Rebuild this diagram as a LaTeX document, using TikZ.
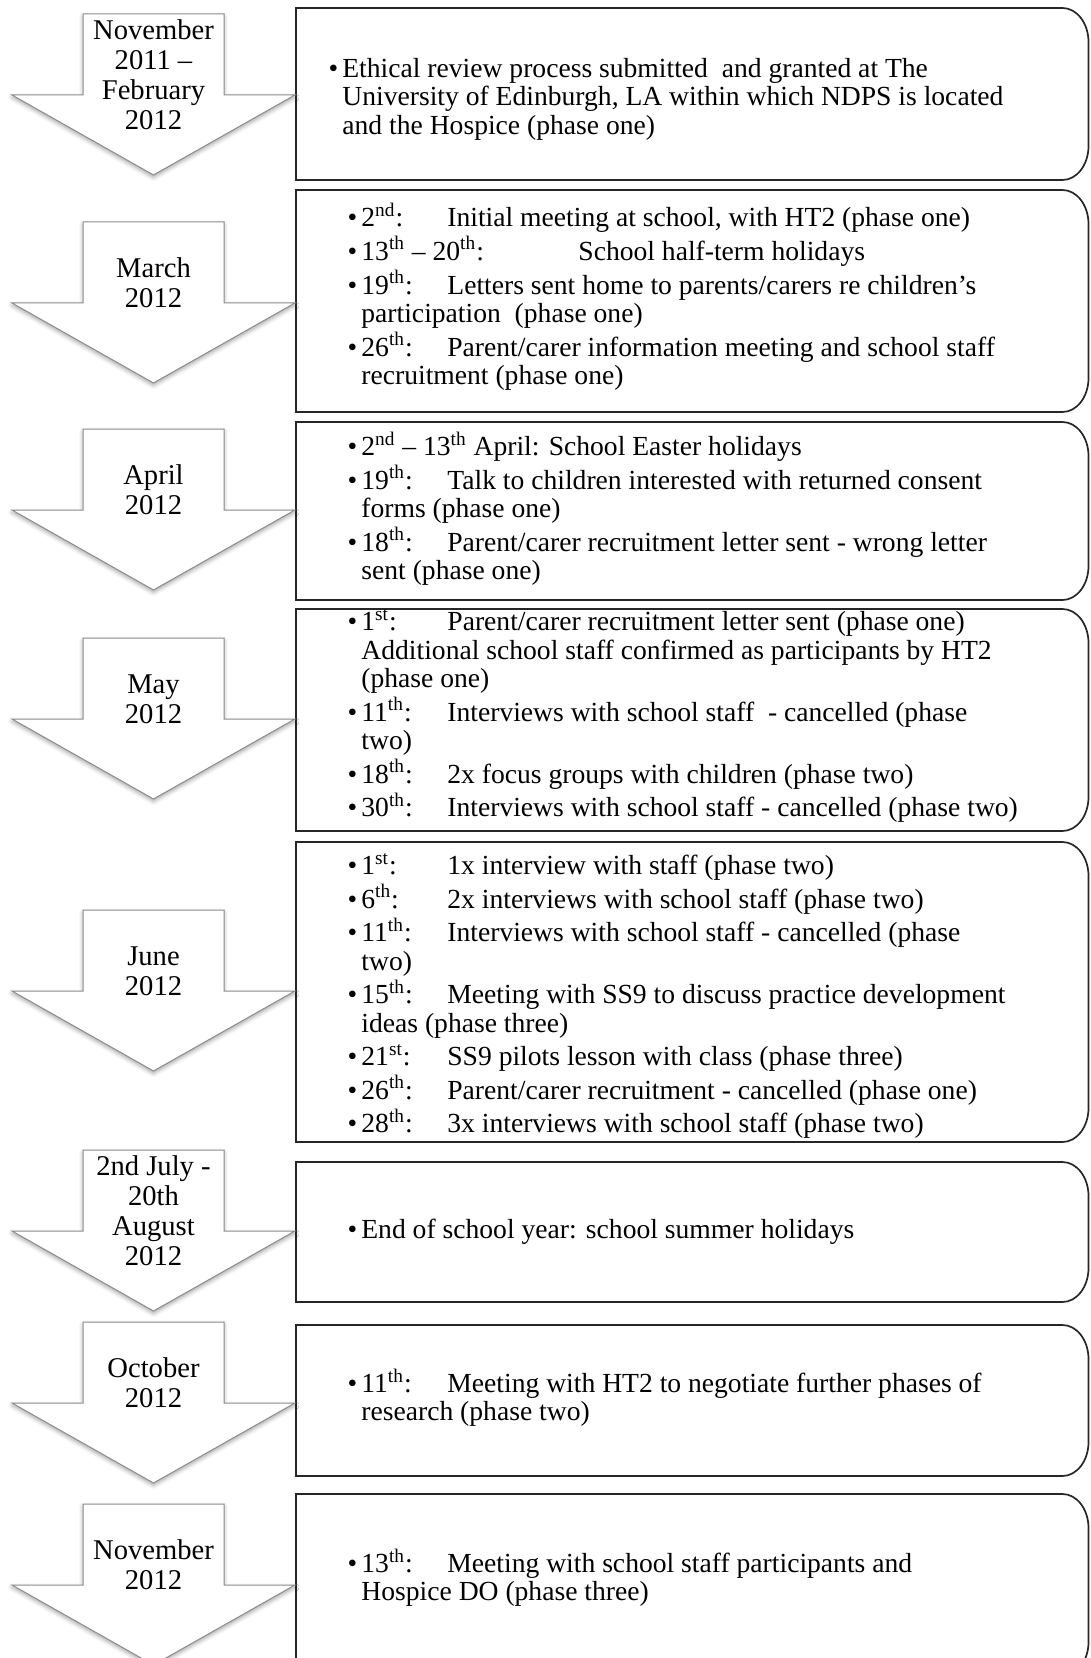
\documentclass[tikz,border=0pt]{standalone}
\usepackage{fontspec}
\setmainfont{Liberation Serif}
\usetikzlibrary{shadows.blur}
\newcommand{\daysup}[1]{\smash{\textsuperscript{#1}}}
\newcommand{\bul}{\llap{\textbullet\hspace{2pt}}}
\newcommand{\ev}[2][43pt]{\bul\makebox[#1][l]{#2}}

\begin{document}
\begin{tikzpicture}[x=0.5pt, y=0.5pt,
  eventbox/.style={draw=black!85, line width=0.85pt, fill=white},
  monthshape/.style={draw=black!45, line width=0.5pt, fill=white,
    blur shadow={shadow xshift=0pt, shadow yshift=-1.2pt, shadow blur radius=2pt, shadow opacity=35}},
  monthlabel/.style={align=center, inner sep=0pt, font=\fontsize{14.3}{15}\selectfont},
  eventtext/.style={anchor=west, align=left, inner sep=0pt, font=\fontsize{13.8}{14.2}\selectfont}]
  \clip (0,0) rectangle (1091,-1658);
  \foreach \t/\b in {8/180, 190/412, 422/600, 609/831, 842/1142, 1162/1302, 1325/1476, 1494/1676}
    \draw[eventbox] (296,-\t) -- (1062.5,-\t) arc[start angle=90, end angle=0, x radius=26, y radius=34]
      -- (1088.5,-\b+34) arc[start angle=0, end angle=-90, x radius=26, y radius=34] -- (296,-\b) -- cycle;
  \foreach \s in {95, 303, 510, 719, 991, 1231, 1403, 1585}
    \draw[monthshape] (83,81-\s) -- (224,81-\s) -- (224,-\s) -- (295,-\s) -- (153.5,-\s-80)
      -- (12,-\s) -- (83,-\s) -- cycle;

  \node[monthlabel] (m1) at (153.5,-75) {November\\2011 –\\February\\2012};
  \node[monthlabel] (m2) at (153.5,-283) {March\\2012};
  \node[monthlabel] (m3) at (153.5,-490) {April\\2012};
  \node[monthlabel] (m4) at (153.5,-699) {May\\2012};
  \node[monthlabel] (m5) at (153.5,-971) {June\\2012};
  \node[monthlabel] (m6) at (153.5,-1211) {2nd July -\\20th\\August\\2012};
  \node[monthlabel] (m7) at (153.5,-1383) {October\\2012};
  \node[monthlabel] (m8) at (153.5,-1565) {November\\2012};

  \node[eventtext] (ev1) at (342,-99) {\bul Ethical review process submitted\ \ and granted at The\\%
    University of Edinburgh, LA within which NDPS is located\\%
    and the Hospice (phase one)};
  \node[eventtext] (ev2) at (361,-299) {\ev{2\daysup{nd}:}Initial meeting at school, with HT2 (phase one)\\[2.6pt]%
    \ev[108.5pt]{13\daysup{th} – 20\daysup{th}:}School half-term holidays\\[2.6pt]%
    \ev{19\daysup{th}:}Letters sent home to parents/carers re children’s\\%
    participation\ \ (phase one)\\[2.6pt]%
    \ev{26\daysup{th}:}Parent/carer information meeting and school staff\\%
    recruitment (phase one)};
  \node[eventtext] (ev3) at (361,-511) {\bul 2\daysup{nd} – 13\daysup{th} April: School Easter holidays\\[2.6pt]%
    \ev{19\daysup{th}:}Talk to children interested with returned consent\\%
    forms (phase one)\\[2.6pt]%
    \ev{18\daysup{th}:}Parent/carer recruitment letter sent - wrong letter\\%
    sent (phase one)};
  \node[eventtext] (ev4) at (361,-717) {\ev{1\daysup{st}:}Parent/carer recruitment letter sent (phase one)\\%
    Additional school staff confirmed as participants by HT2\\%
    (phase one)\\[2.6pt]%
    \ev{11\daysup{th}:}Interviews with school staff\ \ - cancelled (phase\\%
    two)\\[2.6pt]%
    \ev{18\daysup{th}:}2x focus groups with children (phase two)\\[2.6pt]%
    \ev{30\daysup{th}:}Interviews with school staff - cancelled (phase two)};
  \node[eventtext] (ev5) at (361,-997) {\ev{1\daysup{st}:}1x interview with staff (phase two)\\[2.6pt]%
    \ev{6\daysup{th}:}2x interviews with school staff (phase two)\\[2.6pt]%
    \ev{11\daysup{th}:}Interviews with school staff - cancelled (phase\\%
    two)\\[2.6pt]%
    \ev{15\daysup{th}:}Meeting with SS9 to discuss practice development\\%
    ideas (phase three)\\[2.6pt]%
    \ev{21\daysup{st}:}SS9 pilots lesson with class (phase three)\\[2.6pt]%
    \ev{26\daysup{th}:}Parent/carer recruitment - cancelled (phase one)\\[2.6pt]%
    \ev{28\daysup{th}:}3x interviews with school staff (phase two)};
  \node[eventtext] (ev6) at (361,-1232) {\bul End of school year: school summer holidays};
  \node[eventtext] (ev7) at (361,-1400) {\ev{11\daysup{th}:}Meeting with HT2 to negotiate further phases of\\%
    research (phase two)};
  \node[eventtext] (ev8) at (361,-1580) {\ev{13\daysup{th}:}Meeting with school staff participants and\\%
    Hospice DO (phase three)};
\end{tikzpicture}
\end{document}
